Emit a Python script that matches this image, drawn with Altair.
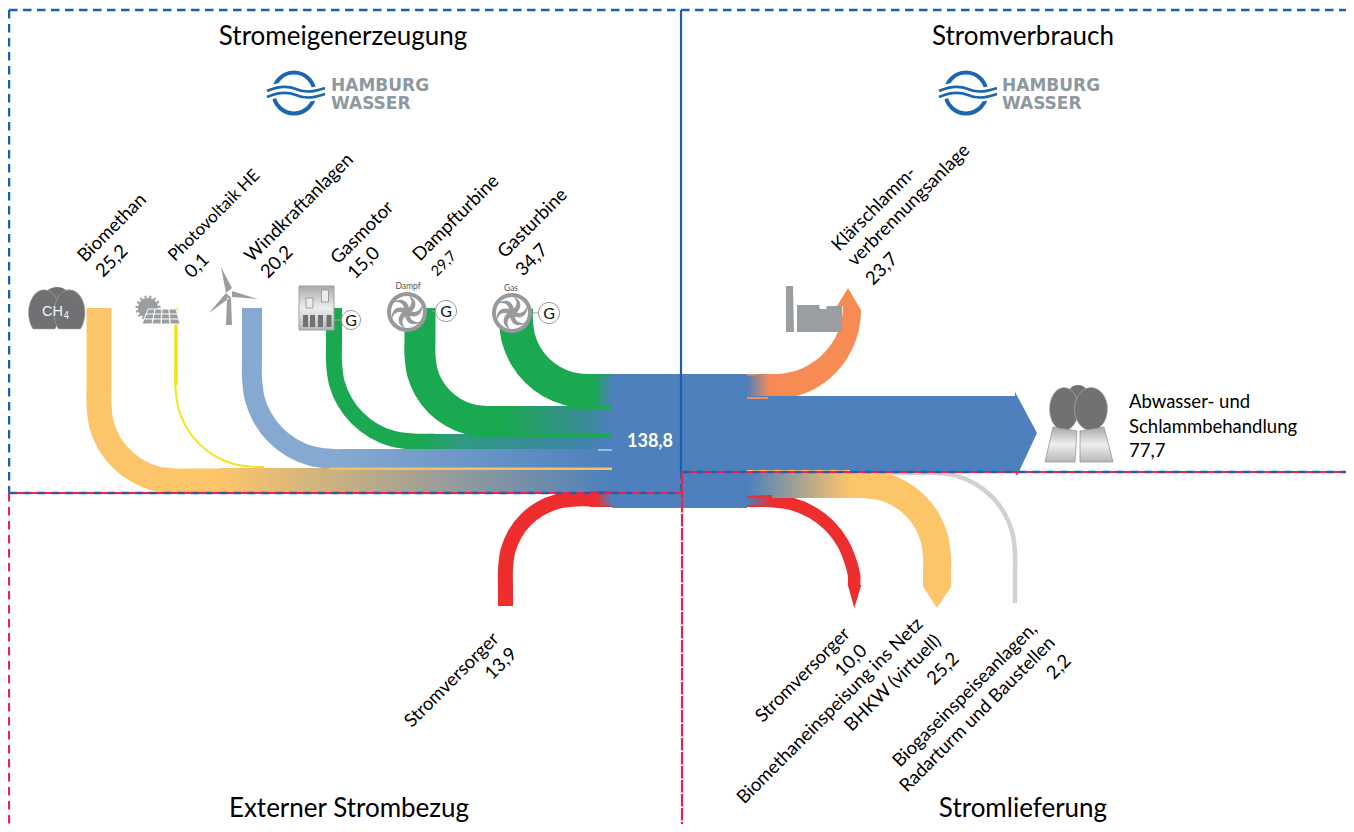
import altair as alt
import pandas as pd

W, H = 1338, 816
X = alt.X("x:Q", axis=None, scale=alt.Scale(domain=[8, 8 + W], nice=False, zero=False))
Y = alt.Y("y:Q", axis=None, scale=alt.Scale(domain=[8 + H, 8], nice=False, zero=False))

GREEN, YEL, BLUE, LBLUE, RED, ORANGE = "#1aa850", "#fdc56a", "#4d80bc", "#85a9d1", "#ee2d2e", "#f68b54"
LINEGREY, THIN, ICON, DARK = "#d0d2d2", "#f2e51c", "#9b9ea1", "#6f7173"
DBLUE, DRED = "#1b5fae", "#e8234f"

# ---- flow centre lines: (name, colour, width, xs, ys)
FLOWS = [
    ("grey", LINEGREY, 4.5,
     [850, 915, 935, 955.7, 975, 991.6, 1004.3, 1012.3, 1015, 1015, 1015],
     [473, 473, 473, 475.7, 483.7, 496.4, 513, 532.3, 553, 573, 603]),
    ("pv", THIN, 2,
     [175.5, 175.5, 178.2, 186.2, 198.9, 215.5, 234.8, 255.5, 264],
     [367, 387, 407.7, 427, 443.6, 456.3, 464.3, 467, 467]),
    ("pvtop", THIN, 3.6, [176, 176, 176], [308, 340, 385]),
    ("biomethan", YEL, 25,
     [99, 99, 99, 101.6, 109.2, 121.3, 137, 155.3, 175, 195, 222],
     [308, 385, 405, 424.7, 443, 458.7, 470.8, 478.4, 481, 481, 481]),
    ("wind", LBLUE, 20,
     [252, 252, 252, 254.8, 262.9, 275.7, 292.5, 312, 333, 354],
     [308, 357, 378, 399, 418.5, 435.3, 448.1, 456.2, 459, 459]),
    ("gasmotor", GREEN, 16,
     [334, 334, 334, 336.7, 344.7, 357.3, 373.8, 392.9, 413.5, 434],
     [308, 341, 362, 382.6, 401.8, 418.2, 430.8, 438.8, 441.5, 441.5]),
    ("dampf", GREEN, 31,
     [420, 420, 420, 422.3, 429, 439.6, 453.5, 469.6, 487, 504],
     [308, 337, 355, 372.2, 388.3, 402, 412.6, 419.2, 421.5, 421.5]),
    ("gas", GREEN, 34,
     [516, 516, 518.4, 525.5, 536.8, 551.5, 568.6, 587, 605],
     [308, 320, 338.4, 355.5, 370.2, 381.5, 388.6, 391, 391]),
    ("redin", RED, 15,
     [505.5, 505.5, 505.5, 507.9, 514.9, 526, 540.5, 557.4, 575.5, 592],
     [606, 587, 569, 550.9, 534, 519.5, 508.4, 501.4, 499, 499]),
    ("redout", RED, 12.5,
     [750, 770, 791.8, 812, 829.4, 842.7, 851.1, 854, 854],
     [501, 501, 503.9, 512.3, 525.6, 543, 563.2, 575, 586]),
    ("yelout", YEL, 28,
     [845, 863, 882.2, 900, 915.3, 927.1, 934.5, 937, 937, 937],
     [484, 484, 486.5, 493.9, 505.7, 521, 538.8, 558, 572, 586]),
]


# ---- straight bands: x, x2, y, y2, gradient stops
def grad(*stops):
    return alt.LinearGradient(gradient="linear", x1=0, x2=1, y1=0, y2=0,
                              stops=[alt.GradientStop(color=c, offset=o) for o, c in stops])


BANDS = [
    (220, 612, 468, 493.5, grad((0, YEL), (1, BLUE))),
    (340, 612, 449, 468, grad((0, LBLUE), (1, BLUE))),
    (420, 612, 434, 449, grad((0, GREEN), (0.2, "#2f9b7f"), (0.8, "#3d85a6"), (1, BLUE))),
    (490, 612, 406, 437, grad((0, GREEN), (0.1, GREEN), (0.8, "#3b8a98"), (1, BLUE))),
    (588, 612, 374, 408, grad((0, GREEN), (0.2, GREEN), (1, BLUE))),
    (590, 612, 491, 507, grad((0, RED), (0.3, RED), (1, BLUE))),
    (747, 775, 374, 399, grad((0, BLUE), (0.8, ORANGE), (1, ORANGE))),
    (747, 850, 470, 498, grad((0, BLUE), (1, YEL))),
    (747, 772, 495, 507, grad((0, BLUE), (1, RED))),
]
BLOCKS = [
    (612, 747, 374, 508, BLUE),
    (747, 1016, 396, 472, BLUE),
    (600, 612, 374, 376, GREEN), (565, 612, 406, 409, GREEN), (470, 612, 434, 437, GREEN),
    (598, 612, 449, 451, "#a0b9d8"), (330, 612, 467.5, 470, "#f7bf60"),
    (600, 612, 491, 493, RED), (600, 612, 505, 507, RED),
    (747, 768, 397, 399, ORANGE), (747, 757, 374, 375.5, ORANGE),
    (747, 765, 496, 498, RED), (747, 765, 505, 507, RED), (747, 850, 470, 472, YEL),
]

# ---- dashed frame: x, x2, y, y2, colour, dash, offset, width
FRAME = [
    (9, 1346, 10, 10, DBLUE, [8.5, 5.5], 0, 2.5),
    (9, 9, 10, 493, DBLUE, [8.5, 5.5], 0, 2.5),
    (681, 681, 10, 472, DBLUE, [1000, 0], 0, 2.2),
    (681, 681, 472, 493, DBLUE, [7, 5], 0, 2.2),
    (9, 682, 493, 493, DBLUE, [8.5, 5.5], 0, 2.5),
    (682, 1346, 472, 472, DBLUE, [8.5, 5.5], 0, 2.5),
    (9, 682, 493, 493, DRED, [8.5, 5.5], 7, 2.2),
    (682, 1346, 472, 472, DRED, [8.5, 5.5], 7, 2.2),
    (9, 9, 493, 824, DRED, [8.5, 5.5], 0, 2.2),
    (682, 682, 472, 824, DRED, [12.5, 1.5], 0, 2.2),
]

# ---- text
TITLES = ["Stromeigenerzeugung", "Stromverbrauch", "Externer Strombezug", "Stromlieferung"]
TITLE_X = [343, 1023, 349, 1023]
TITLE_Y = [45, 45, 817, 817]

UP_LABELS = ["Biomethan", "25,2", "0,1", "Windkraftanlagen", "20,2", "Gasmotor", "15,0",
             "Dampfturbine", "Gasturbine", "34,7", "Klärschlamm-", "verbrennungsanlage", "23,7"]
UP_X = [85, 103, 192, 252, 268, 338, 355, 420, 505, 523, 839, 855, 873]
UP_Y = [263, 278, 279, 263, 279, 265, 280, 262, 259, 277, 252, 267, 286]

DOWN_LABELS = ["Stromversorger", "13,9", "Stromversorger", "10,0", "Biomethaneinspeisung ins Netz", "BHKW (virtuell)",
               "25,2", "Biogaseinspeiseanlagen,", "Radarturm und Baustellen", "2,2"]
DOWN_X = [500, 518, 851, 868, 924, 942, 960, 1038, 1056, 1072]
DOWN_Y = [640, 655, 635, 652, 625, 642, 660, 630, 644, 662]

RIGHT_LABELS = ["Abwasser- und", "Schlammbehandlung", "77,7"]
RIGHT_X = [1129, 1129, 1129]
RIGHT_Y = [408, 433, 457]

LOGO_RING_X = [294, 966]
LOGO_RING_Y = [93, 93]
LOGO_TEXT = ["HAMBURG", "WASSER", "HAMBURG", "WASSER"]
LOGO_TEXT_X = [331, 331, 1002, 1002]
LOGO_TEXT_Y = [91, 109, 91, 109]

layers = []


def sym(path, x, y, fill=None, stroke=None, sw=1.0, angle=0, dash=None):
    kw = dict(shape=path, size=4, opacity=1, filled=fill is not None, angle=angle)
    if fill is not None:
        kw["fill"] = fill
    if stroke is not None:
        kw["stroke"] = stroke
        kw["strokeWidth"] = sw
    else:
        kw["strokeWidth"] = 0
    if dash:
        kw["strokeDash"] = dash
    layers.append(alt.Chart(pd.DataFrame({"x": [x], "y": [y]})).mark_point(**kw).encode(x=X, y=Y))


def circle(r):
    return f"M{-r},0A{r},{r},0,1,1,{r},0A{r},{r},0,1,1,{-r},0Z"


def ellipse(rx, ry):
    return f"M{-rx},0A{rx},{ry},0,1,1,{rx},0A{rx},{ry},0,1,1,{-rx},0Z"


def rect(x, x2, y, y2, fill):
    layers.append(alt.Chart(pd.DataFrame({"x": [x], "x2": [x2], "y": [y], "y2": [y2]}))
                  .mark_rect(fill=fill, strokeWidth=0, opacity=1)
                  .encode(x=X, x2="x2:Q", y=Y, y2="y2:Q"))


def text(labels, xs, ys, **kw):
    layers.append(alt.Chart(pd.DataFrame({"x": xs, "y": ys, "t": labels}))
                  .mark_text(**kw).encode(x=X, y=Y, text="t:N"))


# flows
for name, color, width, xs, ys in FLOWS:
    df = pd.DataFrame({"x": xs, "y": ys, "i": range(len(xs))})
    interp = "linear" if name == "pvtop" else "catmull-rom"
    layers.append(alt.Chart(df).mark_line(color=color, strokeWidth=width, interpolate=interp, strokeCap="butt")
                  .encode(x=X, y=Y, order="i:Q"))

# orange ribbon with its arrow
sym("M0,0C37.5,0,68,-30.5,68,-68L62,-68L73,-86L86,-64C86,-15,47.5,25,0,25Z", 775, 374, fill=ORANGE)

for x, x2, y, y2, f in BANDS:
    rect(x, x2, y, y2, f)
for x, x2, y, y2, f in BLOCKS:
    rect(x, x2, y, y2, f)

# arrow heads
sym("M0,-4L22,37L2,80L0,76Z", 1015, 396, fill=BLUE)
sym("M-15,0L15,0L0,23Z", 937, 585, fill=YEL)
sym("M-6.5,0L7,0L0,23Z", 854.3, 585, fill=RED)

# biogas icon
sym(ellipse(14, 13), 57, 300, fill=DARK)
lobe = "M-11,0A15.5,23,0,1,1,11,0Z"
sym(lobe, 44, 329, fill=DARK, stroke="#a5a7a9", sw=0.6)
sym(lobe, 69.5, 329, fill=DARK, stroke="#a5a7a9", sw=0.6)
text(["CH"], [42], [316], font="Liberation Sans", fontSize=14.5, color="#f2f2f2", align="left", baseline="alphabetic")
text(["4"], [63.5], [319], font="Liberation Sans", fontSize=10, color="#f2f2f2", align="left", baseline="alphabetic")

# photovoltaic icon
sym(circle(10), 148, 308, fill=ICON)
sym(circle(11), 148, 308, stroke=ICON, sw=3, dash=[2, 2.6])
sym("M-13,-7L15,-7L19,8L-19,8Z", 161, 316, fill=ICON, stroke="white", sw=1)
sym("M-15,-2L17,-2M-17,3L18,3M-6,-7L-9,8M1,-7L0,8M8,-7L9,8", 161, 316, stroke="white", sw=1.2)

# wind turbine
sym("M-3,-1L-8,-27L3,-6ZM3,-3L29,5L3,3ZM-3,-1L-20,19L2,3ZM-2,4L2,4L3,31L-3,31Z", 229, 294, fill=ICON)
sym(circle(1.5), 229, 294, fill="white")

# gas engine
VGRAD = alt.LinearGradient(gradient="linear", x1=0, x2=0, y1=0, y2=1, stops=[
    alt.GradientStop(color="#a8a9ab", offset=0), alt.GradientStop(color="#eeeeee", offset=0.5),
    alt.GradientStop(color="#b7b8ba", offset=1)])
sym("M-17.5,-22L17.5,-22L17.5,22L-17.5,22Z", 316.5, 308, fill=VGRAD, stroke="#9b9ea1", sw=1)
sym("M-3.5,-5L3.5,-5L3.5,5L-3.5,5Z", 309.5, 303, fill="#ececec", stroke="#8a8c8e", sw=0.8)
sym("M-3.5,-6L3.5,-6L3.5,6L-3.5,6Z", 325, 296, fill="#ececec", stroke="#8a8c8e", sw=0.8)
for bx in [305.5, 312.5, 320.5, 329]:
    sym("M-2.5,-6L2.5,-6L2.5,6L-2.5,6Z", bx, 321, fill=DARK)
sym("M0,-0.5L8,-0.5L8,0.5L0,0.5Z", 334, 320, fill=ICON)

# fans
FAN_X = [407, 512]
FAN_Y = [312, 313]
arm = "M-2,-2C5,-5,7,-11,1,-17C10,-13,11,-5,3,1Z"
for fx, fy in zip(FAN_X, FAN_Y):
    sym(circle(20), fx, fy, fill="#98999b")
    sym(circle(16), fx, fy, fill="white")
    for a in [0, 60, 120, 180, 240, 300]:
        sym(arm, fx, fy, fill="#98999b", angle=a)
    sym(circle(4), fx, fy, fill="#98999b")
text(["Dampf", "Gas"], [408, 511], [289, 291], font="Lato", fontSize=8.5, color="#555555", align="center", baseline="alphabetic")

# G generators
G_X = [351, 446, 549]
G_Y = [320, 311, 313]
G_R = [9.5, 10.5, 10.5]
sym("M0,-0.5L6,-0.5L6,0.5L0,0.5Z", 432, 311, fill=ICON)
sym("M0,-0.5L7,-0.5L7,0.5L0,0.5Z", 533, 313, fill=ICON)
for gx, gy, gr in zip(G_X, G_Y, G_R):
    sym(circle(gr), gx, gy, fill="white", stroke="#8a8c8e", sw=0.9)
text(["G"] * 3, G_X, [y + 5.5 for y in G_Y], font="Lato", fontSize=16, color="#111111", align="center", baseline="alphabetic")

# incinerator
sym("M-4,0L3,0L4,46L-4,46Z", 790, 286, fill=ICON)
sym("M0,0L22,0L23,4L29,4L30,1L45,1L45,27L0,27Z", 797, 305, fill=ICON)

# treatment icon
sym(ellipse(13, 17), 1078, 402, fill=DARK)
sym(ellipse(14.5, 21.5), 1064, 409, fill=DARK, stroke="#b0b2b4", sw=0.6)
sym(ellipse(16.5, 21.5), 1091, 409, fill=DARK, stroke="#b0b2b4", sw=0.6)
sym("M-24,-18L0,-14L-2,17L-32,17Z", 1077, 445, fill=VGRAD, stroke="#8a8c8e", sw=0.7)
sym("M0,-14L24,-18L33,17L0,17Z", 1080, 445, fill=VGRAD, stroke="#8a8c8e", sw=0.7)

# logos
for rx, ry in zip(LOGO_RING_X, LOGO_RING_Y):
    sym(circle(20.5), rx, ry, stroke="#1c66b0", sw=4)
    sym("M-27,1C-18,-3,-8,-5,2,-1C10,3,20,2,31,-2", rx, ry, stroke="white", sw=14)
    sym("M-27,-2C-18,-6,-8,-8,2,-4C10,0,20,-1,31,-5", rx, ry, stroke="#1c66b0", sw=2.6)
    sym("M-27,4C-18,0,-8,-2,2,2C10,6,20,5,31,1", rx, ry, stroke="#1c66b0", sw=2.6)
text(LOGO_TEXT, LOGO_TEXT_X, LOGO_TEXT_Y, font="DejaVu Sans", fontWeight="bold", fontSize=17,
     color="#8d999f", align="left", baseline="alphabetic")

# frame
for x, x2, y, y2, c, dash, off, w in FRAME:
    layers.append(alt.Chart(pd.DataFrame({"x": [x], "x2": [x2], "y": [y], "y2": [y2]}))
                  .mark_rule(color=c, strokeDash=dash, strokeDashOffset=off, strokeWidth=w)
                  .encode(x=X, x2="x2:Q", y=Y, y2="y2:Q"))

# labels
text(TITLES, TITLE_X, TITLE_Y, font="Lato", fontSize=26, color="black", align="center", baseline="alphabetic")
text(UP_LABELS, UP_X, UP_Y, font="Lato", fontSize=18.5, color="black", angle=315, align="left", baseline="alphabetic")
text(["Photovoltaik HE"], [175], [262], font="Lato", fontSize=17, color="black", angle=315, align="left", baseline="alphabetic")
text(["29,7"], [437], [277], font="Lato", fontSize=14.5, color="black", angle=315, align="left", baseline="alphabetic")
text(DOWN_LABELS, DOWN_X, DOWN_Y, font="Lato", fontSize=18.5, color="black", angle=315, align="right", baseline="alphabetic")
text(RIGHT_LABELS, RIGHT_X, RIGHT_Y, font="Lato", fontSize=18.5, color="black", align="left", baseline="alphabetic")
text(["138,8"], [627], [447], font="Lato", fontWeight="bold", fontSize=18, color="white", align="left", baseline="alphabetic")

chart = alt.layer(*layers).properties(width=W, height=H, padding=0, background="white",
                                      autosize=alt.AutoSizeParams(type="none")).configure_view(stroke=None)
chart.save("out.html", embed_options={"renderer": "svg", "actions": False})
